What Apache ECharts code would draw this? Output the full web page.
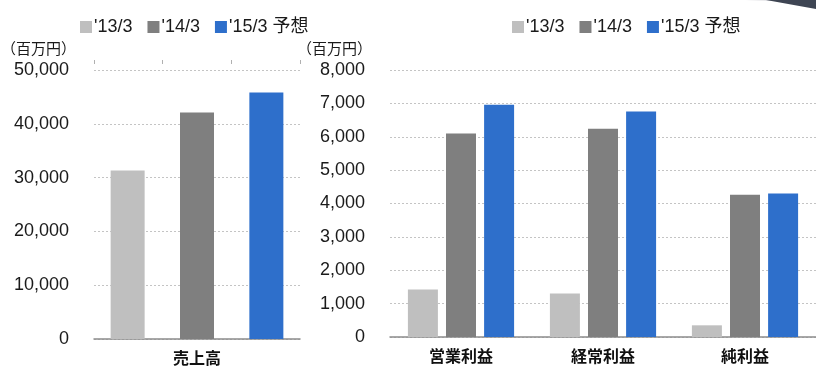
<!DOCTYPE html>
<html><head><meta charset="utf-8">
<script src="https://cdn.jsdelivr.net/npm/echarts@6/dist/echarts.min.js"></script>
<style>html,body{margin:0;padding:0;background:#fff}#c{width:816px;height:367px}</style>
</head><body><div id="c"></div>
<script>
const seriesNames = ["'13/3", "'14/3", "'15/3 予想"];
const salesCategories = ['売上高'];
const sales13 = [31300];
const sales14 = [42100];
const sales15 = [45800];
const profitCategories = ['営業利益', '経常利益', '純利益'];
const profit13 = [1420, 1300, 350];
const profit14 = [6100, 6240, 4260];
const profit15 = [6960, 6760, 4300];
const salesAxis = { min: 0, max: 50000, interval: 10000 };
const profitAxis = { min: 0, max: 8000, interval: 1000 };
const unitLabel = '（百万円）';
const topTickSlots = ['', '', ''];

const colors = ['#bfbfbf', '#7f7f7f', '#2e6fcb'];
const FONT = "'Liberation Sans', Arial, 'Noto Sans CJK JP', sans-serif";
const fmt = v => v.toLocaleString('en-US');

const chart = echarts.init(document.getElementById('c'), null, { renderer: 'canvas' });

const legendCommon = {
  data: seriesNames,
  itemWidth: 12, itemHeight: 12, itemGap: 15, icon: 'rect', top: 13,
  textStyle: { fontFamily: FONT, fontSize: 18, color: '#1a1a1a', padding: [0, 0, 0, -3] }
};

function bar(name, data, idx, xi, yi, w, gap) {
  return {
    type: 'bar', name, data, xAxisIndex: xi, yAxisIndex: yi,
    barWidth: w, barGap: gap, itemStyle: { color: colors[idx] }
  };
}

const yCommon = (cfg, gridIndex) => ({
  type: 'value', gridIndex, min: cfg.min, max: cfg.max, interval: cfg.interval,
  name: unitLabel, nameLocation: 'end', nameGap: 14,
  nameTextStyle: { fontFamily: "'Noto Sans CJK JP', sans-serif", fontSize: 15, color: '#1a1a1a', align: 'right', padding: [0, 18, 0, 0] },
  axisLine: { show: false }, axisTick: { show: false },
  axisLabel: { fontFamily: FONT, fontSize: 18, color: '#1a1a1a', margin: 25, formatter: fmt },
  splitLine: { lineStyle: { color: '#c4c4c4', type: [2, 2], width: 1 } }
});

const xLabel = { fontFamily: "'Noto Sans CJK JP', sans-serif", fontSize: 16, fontWeight: 'bold', color: '#111', margin: 11 };

chart.setOption({
  animation: false,
  backgroundColor: '#fff',
  legend: [
    Object.assign({}, legendCommon, { left: 75 }),
    Object.assign({}, legendCommon, { left: 507 })
  ],
  grid: [
    { left: 91, width: 209, top: 70, height: 269 },
    { left: 390, width: 433, top: 70, height: 267 }
  ],
  xAxis: [
    { type: 'category', gridIndex: 0, data: salesCategories,
      axisLine: { lineStyle: { color: '#8c8c8c', width: 1.5 } }, axisTick: { show: false }, axisLabel: xLabel },
    { type: 'category', gridIndex: 0, position: 'top', offset: 6, data: topTickSlots,
      axisLine: { show: false }, axisLabel: { show: false },
      axisTick: { show: true, length: 4, lineStyle: { color: '#b0b0b0' } } },
    { type: 'category', gridIndex: 1, data: profitCategories,
      axisLine: { lineStyle: { color: '#8c8c8c', width: 1.5 } }, axisTick: { show: false }, axisLabel: xLabel }
  ],
  yAxis: [yCommon(salesAxis, 0), yCommon(profitAxis, 1)],
  series: [
    bar(seriesNames[0], sales13, 0, 0, 0, 34, '104%'),
    bar(seriesNames[1], sales14, 1, 0, 0, 34, '104%'),
    bar(seriesNames[2], sales15, 2, 0, 0, 34, '104%'),
    bar(seriesNames[0], profit13, 0, 2, 1, 30, '27%'),
    bar(seriesNames[1], profit14, 1, 2, 1, 30, '27%'),
    bar(seriesNames[2], profit15, 2, 2, 1, 30, '27%')
  ],
  graphic: [
    { type: 'polygon', silent: true, z: 100,
      shape: { points: [[745, 0], [816, 0], [816, 2]] }, style: { fill: '#d8d8dc' } },
    { type: 'polygon', silent: true, z: 101,
      shape: { points: [[766, 0], [816, 0], [816, 9]] }, style: { fill: '#3e4553' } }
  ]
});
</script></body></html>
